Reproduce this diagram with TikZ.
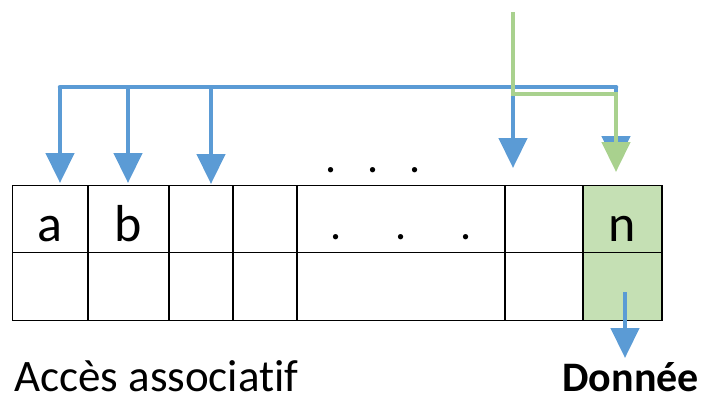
\documentclass[tikz,border=0pt]{standalone}
\usepackage{fontspec}
\setmainfont[Ligatures=NoCommon]{Carlito}
\usetikzlibrary{arrows.meta}
\definecolor{blu}{HTML}{5B9BD5}
\definecolor{grn}{HTML}{A9D18E}
\definecolor{cellgrn}{HTML}{C5E0B4}
\begin{document}
\begin{tikzpicture}[x=1pt,y=-1pt,
  font=\fontsize{44}{50}\selectfont,
  cell/.style={draw, line width=1.3pt, inner sep=0pt, minimum height=67.5pt, text height=44pt, text depth=0pt, font=\fontsize{52}{56}\selectfont},
  gcell/.style={cell, fill=cellgrn},
  bline/.style={blu, line width=4.5pt},
  barrow/.style={bline, -{Triangle[width=28pt,length=30pt]}},
  garrow/.style={grn, line width=4.5pt, -{Triangle[width=28pt,length=30pt]}},
  lbl/.style={inner sep=0pt}]
\useasboundingbox (0,0) rectangle (701,402);
% row 1
\node[cell, minimum width=75.5pt] (a1) at (50.25,219) {a};
\node[cell, minimum width=81pt] (b1) at (128.5,219) {b};
\node[cell, minimum width=64pt] (c1) at (201,219) {};
\node[cell, minimum width=64pt] (d1) at (265,219) {};
\node[cell, minimum width=208pt, font=\fontsize{44}{50}\selectfont, text height=40pt] (e1) at (401,219) {.\hspace{54pt}.\hspace{54pt}.\hspace{14pt}};
\node[cell, minimum width=78pt] (f1) at (544,219) {};
\node[gcell, minimum width=79pt] (n1) at (622.5,219) {n};
% row 2
\node[cell, minimum width=75.5pt] (a2) at (50.25,286.5) {};
\node[cell, minimum width=81pt] (b2) at (128.5,286.5) {};
\node[cell, minimum width=64pt] (c2) at (201,286.5) {};
\node[cell, minimum width=64pt] (d2) at (265,286.5) {};
\node[cell, minimum width=208pt] (e2) at (401,286.5) {};
\node[cell, minimum width=78pt] (f2) at (544,286.5) {};
\node[gcell, minimum width=79pt] (n2) at (622.5,286.5) {};
% dots above
\node[lbl, anchor=base] (dots) at (373,172) {.\hspace{30.5pt}.\hspace{30.5pt}.};
% coordinates
\coordinate (hl) at (60,87);
\coordinate (hr) at (616,87);
\coordinate (tA) at (60,183);
\coordinate (tB) at (128,183);
\coordinate (tC) at (211,184);
\coordinate (tF) at (513,168);
\coordinate (tNb) at (616,166);
\coordinate (gs) at (513,12);
\coordinate (gh) at (616,94);
\coordinate (tNg) at (616,172);
\coordinate (ds) at (625,292);
\coordinate (dt) at (625,358);
% blue arrows
\draw[bline, line cap=round] (hl) -- (hr);
\draw[barrow] (hl) -- (tA);
\draw[barrow] (tB |- hl) -- (tB);
\draw[barrow] (tC |- hl) -- (tC);
\draw[barrow] (tF |- hl) -- (tF);
\draw[barrow] (hr) -- (tNb);
% green arrow
\draw[garrow] (gs) -- (gs |- gh) -- (gh) -- (tNg);
% output arrow
\draw[barrow] (ds) -- (dt);
% labels
\node[lbl, anchor=base west, font=\fontsize{45}{50}\selectfont] (acc) at (14,391) {Accès associatif};
\node[lbl, anchor=base east, font=\fontsize{42}{48}\selectfont] (don) at (699,391) {\textbf{Donnée}};
\end{tikzpicture}
\end{document}
